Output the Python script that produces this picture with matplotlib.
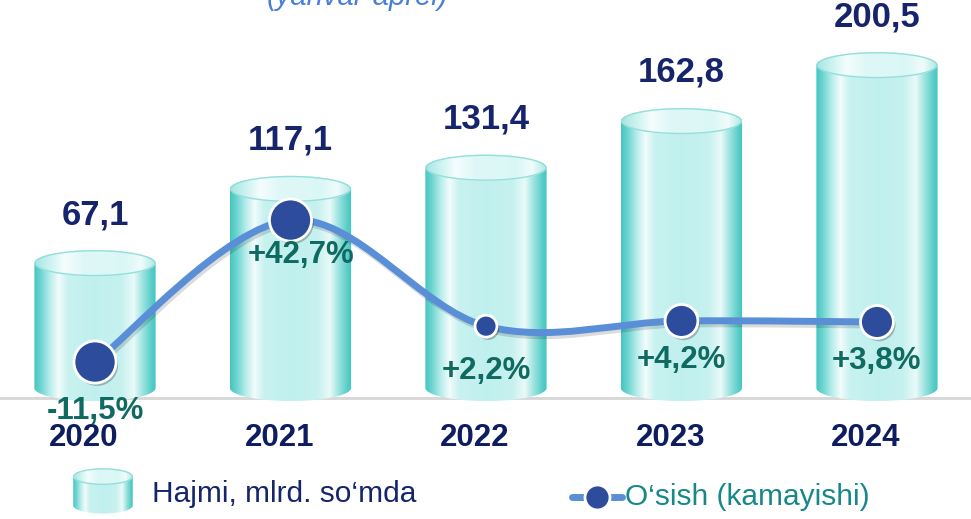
import numpy as np
import matplotlib
matplotlib.use("Agg")
import matplotlib.pyplot as plt
from matplotlib.path import Path
from matplotlib.patches import PathPatch, Ellipse
from matplotlib.colors import LinearSegmentedColormap
from matplotlib.lines import Line2D
import matplotlib.patheffects as pe
import matplotlib.transforms as mtransforms

# ---------------- data ----------------
years = ["2020", "2021", "2022", "2023", "2024"]
volume = [67.1, 117.1, 131.4, 162.8, 200.5]
volume_labels = ["67,1", "117,1", "131,4", "162,8", "200,5"]
growth = [-11.5, 42.7, 2.2, 4.2, 3.8]
growth_labels = ["-11,5%", "+42,7%", "+2,2%", "+4,2%", "+3,8%"]
legend_bar = "Hajmi, mlrd. so\u2018mda"
legend_line = "O\u2018sish (kamayishi)"
subtitle = "(yanvar-aprel)"

# ---------------- style ----------------
plt.rcParams['font.family'] = ['Liberation Sans', 'DejaVu Sans']
W, H = 971, 519
BASE = -17.0          # visual floor of the cylinders
ELL = 8.8             # half height of cylinder caps (data units)
BAR_W = 0.62
marker_sizes = [920, 920, 250, 560, 560]
NAVY = "#15246B"
TEAL_TXT = "#0F6A62"
LINE_C = "#5A8FD8"
MARK_C = "#2D4C9C"

grad_stops = [(0.00, "#44C6C2"), (0.05, "#6AD3CF"), (0.13, "#B8EDEB"),
              (0.20, "#F2FCFC"), (0.28, "#C8F2F0"), (0.50, "#C0F0EE"),
              (0.72, "#C6F1EF"), (0.82, "#EAFAF9"), (0.90, "#95E1DD"),
              (0.97, "#55CBC7"), (1.00, "#44C6C2")]
body_cmap = LinearSegmentedColormap.from_list("cyl", grad_stops)
top_stops = [(0.0, "#A5E5E2"), (0.15, "#D2F5F3"), (0.25, "#F5FDFD"),
             (0.4, "#DFF8F7"), (0.75, "#DAF7F6"), (0.88, "#F0FCFC"),
             (1.0, "#ADE8E5")]
top_cmap = LinearSegmentedColormap.from_list("cyltop", top_stops)

fig = plt.figure(figsize=(W / 100, H / 100), dpi=100)
ax = fig.add_axes([0, 0, 1, 1])
ax.set_axis_off()
XLIM = (-0.486, 4.481)
YLIM = (-105.3, 244.4)


def gradient_img(axis, cmap, x0, x1, y0, y1, clip, z):
    arr = cmap(np.linspace(0, 1, 256))[None, :, :]
    im = axis.imshow(arr, extent=[x0, x1, y0, y1], aspect='auto',
                     interpolation='bilinear', zorder=z, origin='lower')
    im.set_clip_path(clip)
    return im


def cylinder(axis, xc, w, bottom, top, eh, z=2):
    x0, x1 = xc - w / 2, xc + w / 2
    t = np.linspace(np.pi, 2 * np.pi, 60)
    bx = xc + (w / 2) * np.cos(t)
    by = bottom + eh * np.sin(t)
    t2 = np.linspace(0, np.pi, 60)
    tx = xc + (w / 2) * np.cos(t2)
    ty = top + eh * np.sin(t2)
    verts = np.vstack([[x0, top], np.column_stack([bx, by]), [x1, top],
                       np.column_stack([tx, ty]), [x0, top]])
    body = PathPatch(Path(verts, closed=True), transform=axis.transData,
                     facecolor='none', edgecolor='none')
    gradient_img(axis, body_cmap, x0, x1, bottom - eh, top + eh, body, z)
    cap = Ellipse((xc, top), w, 2 * eh, transform=axis.transData,
                  facecolor='none', edgecolor='none')
    gradient_img(axis, top_cmap, x0, x1, top - eh, top + eh, cap, z + 0.1)
    rim = Ellipse((xc, top), w * 0.985, 2 * eh * 0.95, facecolor='none',
                  edgecolor="#94DFDB", linewidth=1.0, zorder=z + 0.2)
    axis.add_patch(rim)


# axis line
ax.axhline(-23.8, color="#D6D6D6", linewidth=2, zorder=1)

x = np.arange(len(years))
bars = ax.bar(x, [v - BASE for v in volume], bottom=BASE, width=BAR_W,
              color='none', edgecolor='none', zorder=2)
for rect, v in zip(bars, volume):
    xc = rect.get_x() + rect.get_width() / 2
    cylinder(ax, xc, rect.get_width(), BASE, v, ELL)

for xi, v, lab in zip(x, volume, volume_labels):
    ax.annotate(lab, (xi, v), xytext=(0, 35), textcoords='offset points',
                ha='center', va='center', fontsize=25, fontweight='bold',
                color=NAVY, zorder=6)

# year labels
year_off = mtransforms.ScaledTranslation(-11 / 100, 0, fig.dpi_scale_trans)
ytr = mtransforms.blended_transform_factory(ax.transData, ax.transAxes) + year_off
for xi, yl in zip(x, years):
    ax.text(xi, 1 - 438 / H, yl, transform=ytr, ha='center', va='center',
            fontsize=22.5, fontweight='bold', color="#0E1C60", zorder=6)

ax.set_xlim(*XLIM)
ax.set_ylim(*YLIM)

# ---------------- growth line (secondary scale) ----------------
ax2 = ax.twinx()
ax2.set_axis_off()
P = np.column_stack([x, growth]).astype(float)
verts = [P[0]]
codes = [Path.MOVETO]
for i in range(len(P) - 1):
    p0 = P[i - 1] if i > 0 else P[i]
    p1, p2 = P[i], P[i + 1]
    p3 = P[i + 2] if i + 2 < len(P) else P[i + 1]
    verts += [p1 + (p2 - p0) / 6, p2 - (p3 - p1) / 6, p2]
    codes += [Path.CURVE4] * 3
curve = PathPatch(Path(verts, codes), facecolor='none', edgecolor=LINE_C,
                  linewidth=5, capstyle='round', zorder=4,
                  transform=ax2.transData)
curve.set_path_effects([pe.SimpleLineShadow(offset=(1.2, -2.2), alpha=0.14),
                        pe.Normal()])
ax2.add_patch(curve)
sc = ax2.scatter(x, growth, s=marker_sizes, c=MARK_C, edgecolors='white',
                 linewidths=2, zorder=5)
sc.set_path_effects([pe.SimplePatchShadow(offset=(1.5, -2), shadow_rgbFace='black',
                                          alpha=0.25),
                     pe.Normal()])
lab_dx = [0, 11, 0, 0, 0]
lab_dy = [-35, -25, -32, -28, -28]
for xi, g, lab, dx, dy in zip(x, growth, growth_labels, lab_dx, lab_dy):
    ax2.annotate(lab, (xi, g), xytext=(dx * 0.72, dy), textcoords='offset points',
                 ha='center', va='center', fontsize=22.5, fontweight='bold',
                 color=TEAL_TXT, zorder=6)
ax2.set_xlim(*XLIM)
ax2.set_ylim(-71.4, 126.7)

# ---------------- subtitle (cut at top, as in the source) ----------------
fig.text(357 / W, 1 - 5 / H, subtitle, ha='center', va='baseline',
         fontsize=21, style='italic', color="#4A7FD8")

# ---------------- legend ----------------
lax = fig.add_axes([72 / W, 1 - 515 / H, 62 / W, 48 / H])
lax.set_axis_off()
cylinder(lax, 0.5, 0.96, 0.2, 0.8, 0.17)
lax.set_xlim(0, 1)
lax.set_ylim(0, 1)
fig.text(152 / W, 1 - 494 / H, legend_bar, ha='left', va='center',
         fontsize=21.5, color=NAVY)

ly = 1 - 497 / H
fig.add_artist(Line2D([572 / W, 622 / W], [ly, ly], transform=fig.transFigure,
                      color=LINE_C, linewidth=5, solid_capstyle='round'))
fig.add_artist(Line2D([597 / W], [ly], transform=fig.transFigure, marker='o',
                      markersize=18, markerfacecolor=MARK_C,
                      markeredgecolor='white', markeredgewidth=2))
fig.text(625 / W, ly, legend_line, ha='left', va='center', fontsize=21.5,
         color="#16888A")

fig.savefig("out.png", dpi=100, facecolor='white')
